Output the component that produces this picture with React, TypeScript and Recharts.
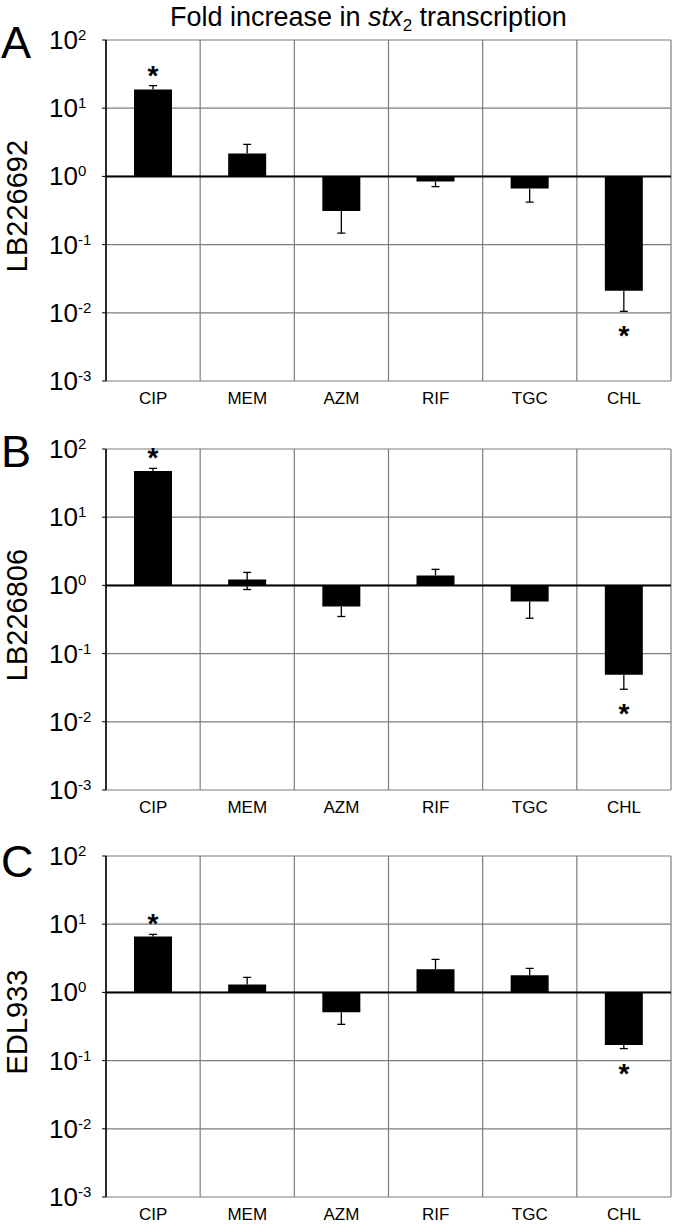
import React from 'react';
import { BarChart, Bar, XAxis, YAxis, CartesianGrid, ReferenceLine, LabelList } from 'recharts';

const FONT = '"Liberation Sans", Arial, sans-serif';

const CATEGORIES = ['CIP', 'MEM', 'AZM', 'RIF', 'TGC', 'CHL'];
const Y_TICKS = [0.001, 0.01, 0.1, 1, 10, 100];
const STRAINS = ['LB226692', 'LB226806', 'EDL933'];
const PANEL_LETTERS = ['A', 'B', 'C'];

// fold change per drug
const A_VALUES = [18.8, 2.17, 0.31, 0.845, 0.667, 0.021];
const A_ERR_UP = [21.5, 2.94, null, null, null, null];
const A_ERR_DOWN = [null, null, 0.147, 0.71, 0.42, 0.0105];

const B_VALUES = [47.4, 1.22, 0.49, 1.4, 0.58, 0.049];
const B_ERR_UP = [52, 1.55, null, 1.72, null, null];
const B_ERR_DOWN = [null, 0.87, 0.35, null, 0.33, 0.03];

const C_VALUES = [6.6, 1.31, 0.51, 2.18, 1.78, 0.17];
const C_ERR_UP = [7.1, 1.66, null, 3.05, 2.25, null];
const C_ERR_DOWN = [null, null, 0.34, null, null, 0.15];

// significance marks (*) — same pattern in all three strains
const SIGNIFICANT = [true, false, false, false, false, true];

const PANEL_TOPS = [0, 409, 816];
const LETTER_BASELINES = [58, 467, 877];

type Row = {
  cat: string;
  value: number;
  bar: [number, number];
  err: [number, number];
  errUp: number | null;
  errDown: number | null;
  sig: boolean;
};

const buildRows = (values: number[], up: (number | null)[], down: (number | null)[]): Row[] =>
  CATEGORIES.map((cat, i) => ({
    cat,
    value: values[i],
    bar: [1, values[i]],
    err: [down[i] ?? values[i], up[i] ?? values[i]],
    errUp: up[i],
    errDown: down[i],
    sig: SIGNIFICANT[i],
  }));

const PANELS = [
  buildRows(A_VALUES, A_ERR_UP, A_ERR_DOWN),
  buildRows(B_VALUES, B_ERR_UP, B_ERR_DOWN),
  buildRows(C_VALUES, C_ERR_UP, C_ERR_DOWN),
];

const LogTick = (props: any) => {
  const { x, y, payload } = props;
  const exp = Math.round(Math.log10(payload.value));
  return (
    <text x={x - 51} y={y + 9} textAnchor="start" fontSize={26} fill="#000" fontFamily={FONT}>
      10
      <tspan dy={-9} fontSize={15}>{exp}</tspan>
    </text>
  );
};

const ErrorShape = (props: any) => {
  const { x, y, width, height, payload } = props;
  const cx = x + width / 2;
  const top = Math.min(y, y + height);
  const bottom = Math.max(y, y + height);
  return (
    <g stroke="#000" strokeWidth={1.3}>
      <line x1={cx} x2={cx} y1={top} y2={bottom} />
      {payload.errUp != null && <line x1={cx - 4} x2={cx + 4} y1={top} y2={top} />}
      {payload.errDown != null && <line x1={cx - 4} x2={cx + 4} y1={bottom} y2={bottom} />}
    </g>
  );
};

const Panel = ({ rows }: { rows: Row[] }) => {
  const renderStar = (props: any) => {
    const { x, y, width, height, index } = props;
    const row = rows[index];
    if (!row || !row.sig) return null;
    const cx = x + width / 2;
    const top = Math.min(y, y + height);
    const bottom = Math.max(y, y + height);
    const baseY = row.value >= 1 ? top - 1 : bottom + 34;
    return (
      <text key={`star-${index}`} x={cx} y={baseY} textAnchor="middle" fontSize={28} fontWeight="bold" fontFamily={FONT} fill="#000">
        *
      </text>
    );
  };

  return (
    <BarChart width={680} height={411} data={rows} margin={{ top: 40, right: 9, bottom: 0, left: 0 }}>
      <CartesianGrid
        stroke="#7d7d7d"
        strokeWidth={1.2}
        verticalCoordinatesGenerator={({ offset }: any) =>
          CATEGORIES.map((_, i) => offset.left + (offset.width * i) / CATEGORIES.length).concat(offset.left + offset.width)
        }
      />
      <XAxis
        dataKey="cat"
        axisLine={false}
        tickLine={false}
        tickSize={0}
        tickMargin={11}
        height={30}
        tick={{ fill: '#000', fontSize: 17, fontFamily: FONT }}
      />
      <XAxis xAxisId="err" dataKey="cat" hide />
      <YAxis
        scale="log"
        type="number"
        domain={[0.001, 100]}
        ticks={Y_TICKS}
        allowDataOverflow
        width={106}
        axisLine={{ stroke: '#000', strokeWidth: 1.5 }}
        tickLine={{ stroke: '#000', strokeWidth: 1 }}
        tickSize={4}
        tickMargin={2}
        tick={<LogTick />}
        interval={0}
      />
      <Bar dataKey="bar" fill="#000" barSize={38} isAnimationActive={false} />
      <ReferenceLine y={1} stroke="#000" strokeWidth={2} />
      <Bar xAxisId="err" dataKey="err" barSize={38} shape={<ErrorShape />} isAnimationActive={false}>
        <LabelList dataKey="cat" content={renderStar} />
      </Bar>
    </BarChart>
  );
};

export default function App() {
  return (
    <div style={{ position: 'absolute', left: 0, top: 0, width: 680, height: 1225, background: '#fff', overflow: 'hidden' }}>
      {PANELS.map((rows, i) => (
        <div key={STRAINS[i]} style={{ position: 'absolute', left: 0, top: PANEL_TOPS[i] }}>
          <Panel rows={rows} />
        </div>
      ))}
      <svg width={680} height={1225} style={{ position: 'absolute', left: 0, top: 0, pointerEvents: 'none' }}>
        <text x={170} y={26} fontSize={27} fontFamily={FONT} fill="#000">
          Fold increase in <tspan fontStyle="italic">stx</tspan>
          <tspan fontSize={17} dy={5}>2</tspan>
          <tspan dy={-5}> transcription</tspan>
        </text>
        {PANEL_LETTERS.map((letter, i) => (
          <text key={letter} x={1} y={LETTER_BASELINES[i]} fontSize={45} fontFamily={FONT} fill="#000">
            {letter}
          </text>
        ))}
        {STRAINS.map((name, i) => {
          const cy = PANEL_TOPS[i] + 40 + 166;
          return (
            <text key={name} x={27} y={cy} transform={`rotate(-90, 27, ${cy})`} textAnchor="middle" fontSize={29} fontFamily={FONT} fill="#000">
              {name}
            </text>
          );
        })}
      </svg>
    </div>
  );
}
